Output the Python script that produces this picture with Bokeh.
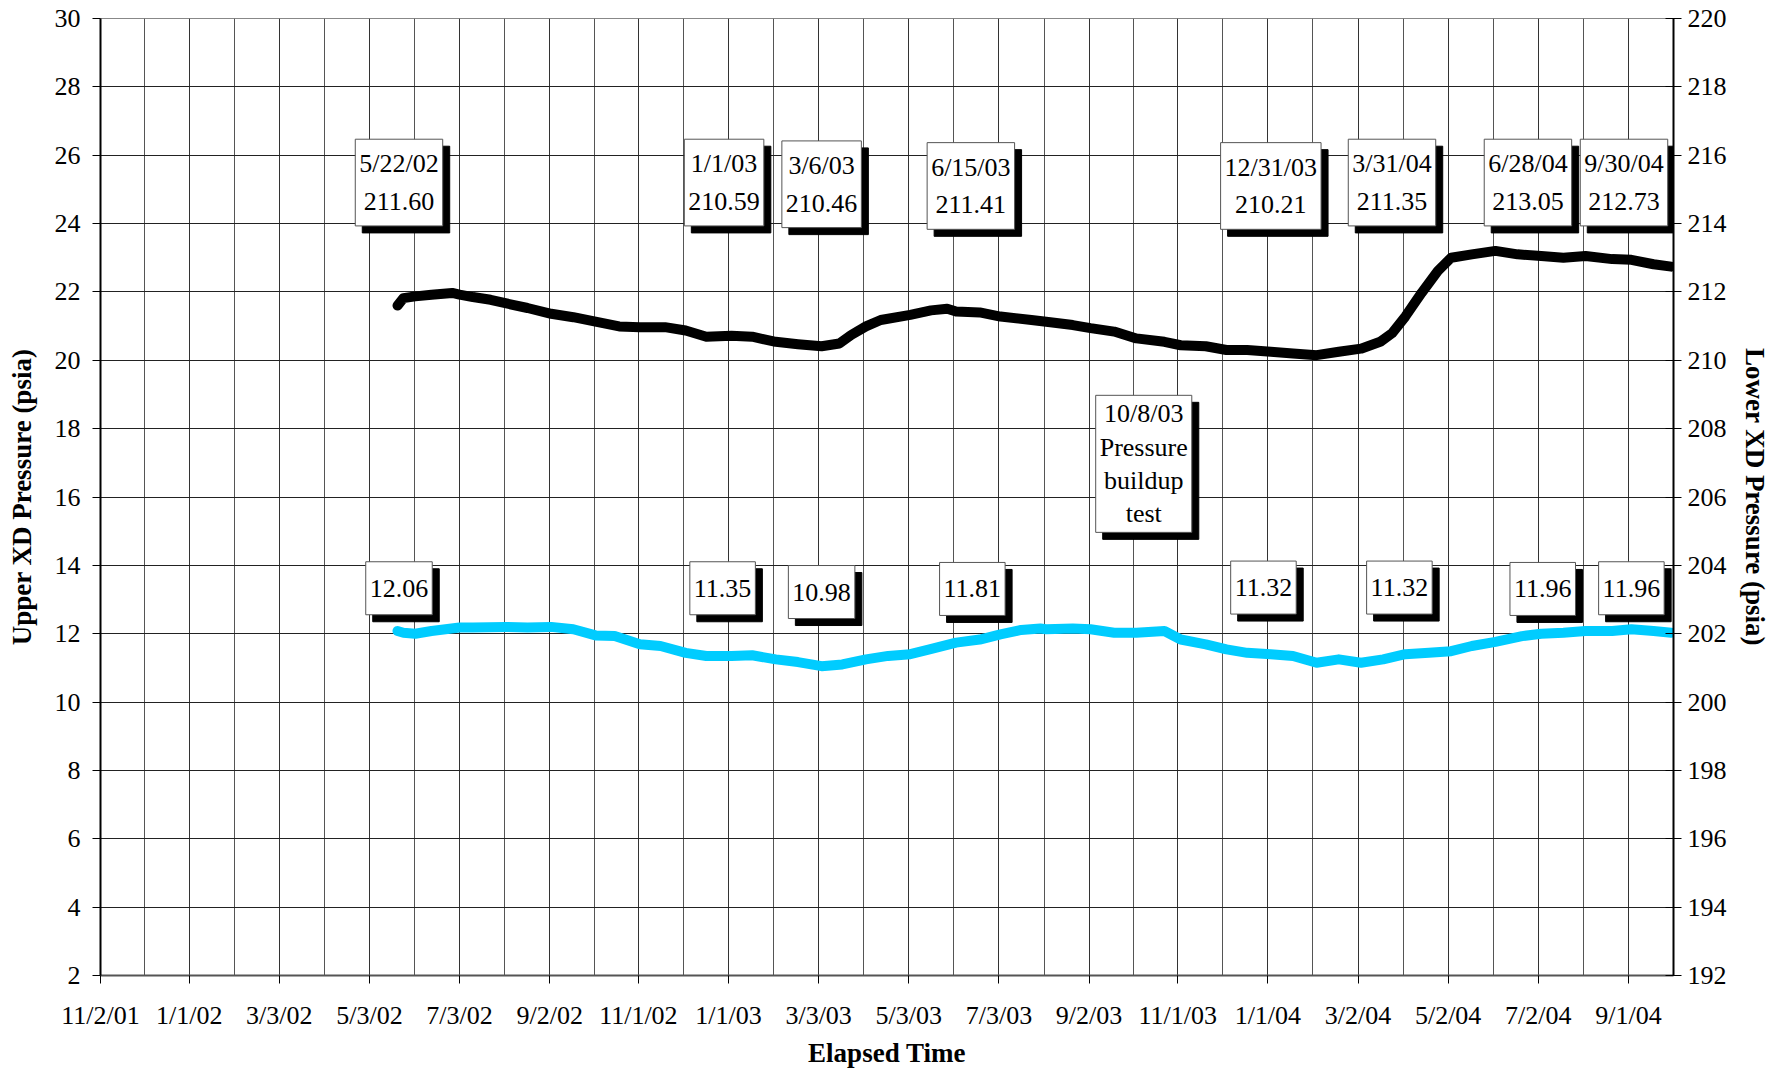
import pandas as pd
from bokeh.plotting import figure
from bokeh.models import Range1d, LinearAxis, FixedTicker, Label
from bokeh.embed import file_html
from bokeh.resources import INLINE

START = "11/2/01"

# x-axis tick labels (dates)
x_tick_labels = ["11/2/01", "1/1/02", "3/3/02", "5/3/02", "7/3/02", "9/2/02", "11/1/02",
                 "1/1/03", "3/3/03", "5/3/03", "7/3/03", "9/2/03", "11/1/03",
                 "1/1/04", "3/2/04", "5/2/04", "7/2/04", "9/1/04"]
x_end = "10/1/04"
left_ticks = list(range(2, 31, 2))
right_ticks = list(range(192, 221, 2))

# Lower XD pressure (black, right axis)
lower_dates = ["5/22/02", "5/26/02", "6/3/02", "6/14/02", "6/28/02", "7/3/02", "7/12/02", "7/24/02",
               "8/3/02", "8/18/02", "9/3/02", "9/18/02", "10/3/02", "10/19/02", "11/2/02", "11/19/02",
               "12/3/02", "12/17/02", "1/3/03", "1/17/03", "2/2/03", "2/17/03", "3/5/03", "3/17/03",
               "3/25/03", "4/4/03", "4/14/03", "5/4/03", "5/18/03", "5/29/03", "6/4/03", "6/20/03",
               "7/4/03", "7/25/03", "8/4/03", "8/22/03", "9/3/03", "9/19/03", "10/4/03", "10/23/03",
               "11/3/03", "11/20/03", "12/4/03", "12/18/03", "1/3/04", "1/18/04", "2/3/04", "2/18/04",
               "3/4/04", "3/17/04", "3/25/04", "4/3/04", "4/14/04", "4/25/04", "5/4/04", "5/18/04",
               "6/3/04", "6/18/04", "7/4/04", "7/19/04", "8/3/04", "8/21/04", "9/3/04", "9/18/04", "9/30/04"]
lower_psia = [211.60, 211.82, 211.87, 211.92, 211.97, 211.92, 211.85, 211.77,
              211.67, 211.53, 211.36, 211.26, 211.13, 210.99, 210.97, 210.97,
              210.87, 210.69, 210.72, 210.69, 210.54, 210.47, 210.41, 210.49,
              210.74, 210.99, 211.18, 211.33, 211.46, 211.51, 211.43, 211.40,
              211.28, 211.18, 211.13, 211.03, 210.94, 210.84, 210.64, 210.54,
              210.44, 210.41, 210.30, 210.30, 210.25, 210.20, 210.15, 210.25,
              210.34, 210.54, 210.79, 211.28, 211.97, 212.61, 213.00, 213.10,
              213.20, 213.10, 213.05, 213.00, 213.05, 212.96, 212.94, 212.81, 212.74]

# Upper XD pressure (cyan, left axis)
upper_dates = ["5/22/02", "5/26/02", "6/3/02", "6/14/02", "7/3/02", "7/12/02", "8/3/02", "8/18/02",
               "9/3/02", "9/18/02", "10/3/02", "10/16/02", "11/2/02", "11/16/02", "12/3/02", "12/17/02",
               "1/3/03", "1/17/03", "2/2/03", "2/17/03", "3/5/03", "3/19/03", "4/4/03", "4/19/03",
               "5/4/03", "5/17/03", "6/4/03", "6/20/03", "7/4/03", "7/18/03", "7/31/03", "8/4/03",
               "8/22/03", "9/3/03", "9/19/03", "10/4/03", "10/23/03", "11/3/03", "11/20/03", "12/4/03",
               "12/18/03", "1/3/04", "1/18/04", "2/3/04", "2/18/04", "3/4/04", "3/19/04", "4/3/04",
               "4/19/04", "5/4/04", "5/18/04", "6/3/04", "6/21/04", "7/4/04", "7/19/04", "8/3/04",
               "8/21/04", "9/3/04", "9/18/04", "9/30/04"]
upper_psia = [12.08, 12.03, 12.00, 12.08, 12.18, 12.18, 12.20, 12.18,
              12.20, 12.13, 11.95, 11.93, 11.69, 11.64, 11.44, 11.35,
              11.35, 11.37, 11.25, 11.17, 11.05, 11.10, 11.25, 11.35,
              11.40, 11.54, 11.74, 11.83, 11.98, 12.11, 12.15, 12.13,
              12.15, 12.13, 12.03, 12.03, 12.08, 11.83, 11.69, 11.54,
              11.44, 11.40, 11.35, 11.15, 11.25, 11.15, 11.25, 11.40,
              11.44, 11.49, 11.64, 11.76, 11.93, 12.00, 12.03, 12.08,
              12.08, 12.13, 12.08, 12.03]

# Callout texts
top_texts = ["5/22/02\n211.60", "1/1/03\n210.59", "3/6/03\n210.46", "6/15/03\n211.41",
             "12/31/03\n210.21", "3/31/04\n211.35", "6/28/04\n213.05", "9/30/04\n212.73"]
bottom_texts = ["12.06", "11.35", "10.98", "11.81", "11.32", "11.32", "11.96", "11.96"]
note_text = ["10/8/03\nPressure\nbuildup\ntest"]

# callout placement (layout only)
top_pos_x = ["5/23/02", "12/29/02", "3/5/03", "6/14/03", "1/3/04", "3/25/04", "6/25/04", "8/29/04"]
top_pos_y = [25.2, 25.2, 25.15, 25.1, 25.1, 25.2, 25.2, 25.2]
bot_pos_x = ["5/23/02", "12/28/02", "3/5/03", "6/15/03", "12/29/03", "3/30/04", "7/5/04", "9/3/04"]
bot_pos_y = [13.33, 13.33, 13.22, 13.31, 13.35, 13.35, 13.31, 13.33]
note_pos_x = ["10/9/03"]
note_pos_y = [16.97]

start = pd.to_datetime(START, format="%m/%d/%y")


def days(ds):
    return [int((pd.to_datetime(d, format="%m/%d/%y") - start).days) for d in ds]


xt = days(x_tick_labels)
minor = [(a + b) / 2 for a, b in zip(xt[:-1], xt[1:])]
x_max = days([x_end])[0] + 0.5

FONT = "Liberation Serif"

p = figure(width=1780, height=1070, output_backend="svg", toolbar_location=None,
           x_range=Range1d(0, x_max), y_range=Range1d(2, 30),
           min_border_left=100, min_border_right=107, min_border_top=18, min_border_bottom=94)
p.extra_y_ranges = {"right": Range1d(192, 220)}
p.background_fill_color = "white"
p.border_fill_color = "white"
p.outline_line_color = "#888888"

xticker = FixedTicker(ticks=xt, minor_ticks=minor)
p.xaxis.ticker = xticker
p.xaxis.major_label_overrides = {t: l for t, l in zip(xt, x_tick_labels)}
p.xgrid.ticker = xticker
p.xgrid.grid_line_color = "#333333"
p.xgrid.minor_grid_line_color = "#555555"
p.xgrid.grid_line_width = 1
p.yaxis.ticker = FixedTicker(ticks=left_ticks)
p.ygrid.ticker = FixedTicker(ticks=left_ticks)
p.ygrid.grid_line_color = "#222222"

p.xaxis.axis_label = "Elapsed Time"
p.yaxis.axis_label = "Upper XD Pressure (psia)"

right = LinearAxis(y_range_name="right", ticker=FixedTicker(ticks=right_ticks),
                   axis_label="Lower XD Pressure (psia)")
p.add_layout(right, "right")

for ax in [p.xaxis[0], p.yaxis[0], right]:
    ax.major_label_text_font = FONT
    ax.major_label_text_font_size = "26px"
    ax.major_label_text_color = "black"
    ax.axis_label_text_font = FONT
    ax.axis_label_text_font_size = "27px"
    ax.axis_label_text_font_style = "bold"
    ax.axis_label_text_color = "black"
    ax.minor_tick_line_color = None
    ax.major_tick_line_color = "black"
    ax.major_tick_out = 8
    ax.major_tick_in = 0
    ax.axis_line_color = "black"
    ax.axis_line_width = 2

p.xaxis.axis_line_color = "#555555"
p.xaxis.major_label_standoff = 17
p.xaxis.axis_label_standoff = 5
p.yaxis.major_label_standoff = 12
p.yaxis.axis_label_standoff = 15
right.major_tick_in = 8
right.major_label_standoff = 6
right.axis_label_standoff = 10

p.line(days(upper_dates), upper_psia, line_color="#00CCFF", line_width=10,
       line_join="round", line_cap="round")
p.line(days(lower_dates), lower_psia, y_range_name="right", line_color="black", line_width=10,
       line_join="round", line_cap="round")


def callouts(xs, ys, texts, line_height, pad_y):
    style = dict(text_font=FONT, text_font_size="26px", text_align="center",
                 text_baseline="middle", text_line_height=line_height,
                 padding=dict(x=4, y=pad_y), level="overlay")
    for x, y, t in zip(days(xs), ys, texts):
        p.add_layout(Label(x=x, y=y, text=t, text_color="black",
                           background_fill_color="black", border_line_color="black",
                           x_offset=7, y_offset=-7, **style))
        p.add_layout(Label(x=x, y=y, text=t, text_color="black",
                           background_fill_color="white", border_line_color="#555555",
                           border_line_width=1, **style))


callouts(top_pos_x, top_pos_y, top_texts, 1.3, 10)
callouts(bot_pos_x, bot_pos_y, bottom_texts, 1.2, 18)
callouts(note_pos_x, note_pos_y, note_text, 1.15, 4)

open("out.html", "w").write(file_html(p, INLINE))
